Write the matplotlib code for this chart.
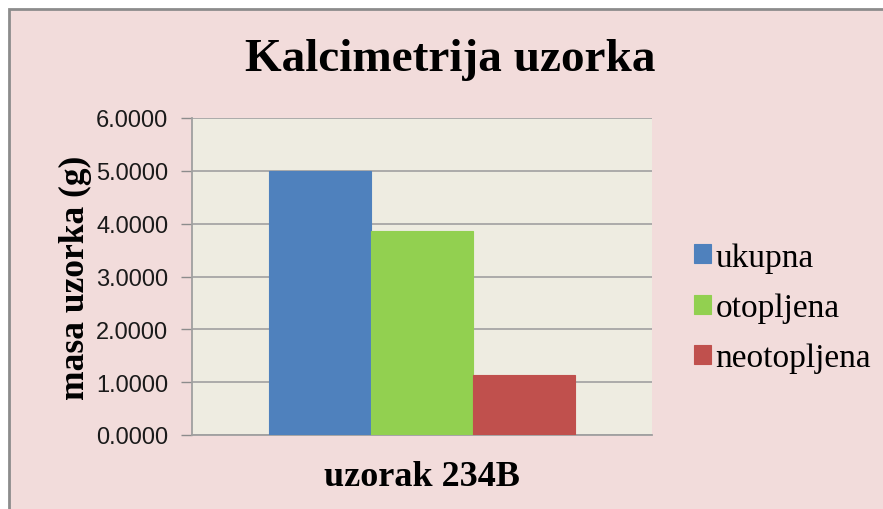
import numpy as np
import matplotlib.pyplot as plt
from matplotlib.patches import Rectangle

# data
sample = "uzorak 234B"
series = ["ukupna", "otopljena", "neotopljena"]
values = [5.0, 3.86, 1.14]
colors = ["#4F81BD", "#92D050", "#C0504D"]
yticks = [0.0, 1.0, 2.0, 3.0, 4.0, 5.0, 6.0]

W, H = 883, 510
fig = plt.figure(figsize=(W / 100, H / 100), dpi=100)
fig.patch.set_facecolor("white")

# pink chart area with gray frame (cut at right/bottom)
fig.add_artist(Rectangle((8.5 / W, -0.1), 1.2, 1.1 - 10 / H, transform=fig.transFigure,
                         facecolor="#F2DCDB", edgecolor="#8C8C8C", linewidth=2, zorder=-10))

ax = fig.add_axes([192 / W, (H - 436) / H, 460 / W, 317 / H])
ax.set_facecolor("#EEECE1")

width = 0.222
offsets = (np.arange(len(series)) - 1) * width
for off, val, col, name in zip(offsets, values, colors, series):
    ax.bar(off, val, width=width, color=col, edgecolor=col, linewidth=0.8, label=name, zorder=3)

ax.set_xlim(-0.5, 0.5)
ax.set_ylim(0, 6)
ax.set_yticks(yticks)
ax.set_yticklabels(["%.4f" % v for v in yticks], fontsize=17,
                   family="Liberation Sans", color="#1a1a1a")
ax.yaxis.grid(True, color="#A6A6A6", linewidth=1.3, zorder=1)
ax.set_xticks([0])
ax.set_xticklabels([sample], fontsize=26, family="Liberation Serif", fontweight="bold")
ax.tick_params(axis="x", length=0, pad=18)
ax.tick_params(axis="y", length=8, color="#8C8C8C", width=1, pad=9)
for s in ["top", "right"]:
    ax.spines[s].set_visible(False)
for s in ["left", "bottom"]:
    ax.spines[s].set_color("#A0A0A0")
    ax.spines[s].set_linewidth(1.3)

ax.set_ylabel("masa uzorka (g)", fontsize=25.5, family="Liberation Serif",
              fontweight="bold", labelpad=3)

fig.text(450 / W, 1 - 60 / H, "Kalcimetrija uzorka", ha="center", va="center",
         fontsize=34, family="Liberation Serif", fontweight="bold")

fig.legend(loc="upper left", bbox_to_anchor=(664 / W, 1 - 213 / H), frameon=False,
           prop={"family": "Liberation Serif", "size": 24},
           handlelength=0.5, handleheight=0.5, handletextpad=0.15, labelspacing=0.6)

fig.savefig("out.png", dpi=100)
